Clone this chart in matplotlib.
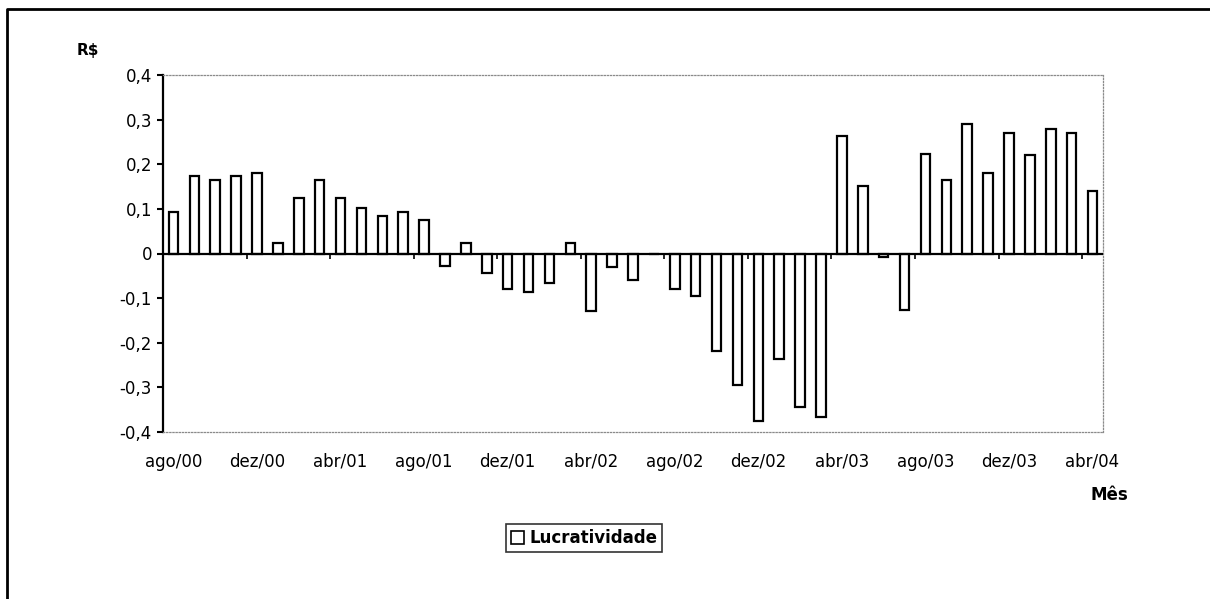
import numpy as np
import matplotlib.pyplot as plt
from matplotlib.patches import Patch
from matplotlib.lines import Line2D

# monthly profitability, ago/00 .. abr/04 (45 months)
lucratividade = [0.093, 0.174, 0.165, 0.174, 0.181, 0.024, 0.124, 0.165, 0.124, 0.102,
                 0.085, 0.094, 0.074, -0.027, 0.024, -0.044, -0.079, -0.087, -0.067, 0.024,
                 -0.128, -0.030, -0.060, 0.0, -0.080, -0.096, -0.219, -0.295, -0.375, -0.237,
                 -0.345, -0.367, 0.264, 0.152, -0.008, -0.127, 0.224, 0.164, 0.290, 0.181,
                 0.269, 0.221, 0.279, 0.270, 0.140]
month_labels = ['ago/00', 'dez/00', 'abr/01', 'ago/01', 'dez/01', 'abr/02',
                'ago/02', 'dez/02', 'abr/03', 'ago/03', 'dez/03', 'abr/04']
y_ticks = [-0.4, -0.3, -0.2, -0.1, 0, 0.1, 0.2, 0.3, 0.4]
y_labels = ['-0,4', '-0,3', '-0,2', '-0,1', '0', '0,1', '0,2', '0,3', '0,4']

W, H = 1210, 599
fig = plt.figure(figsize=(W / 100, H / 100), dpi=100)
ax = fig.add_axes([163 / W, 1 - 432 / H, 940 / W, 357 / H])

x = np.arange(len(lucratividade))
ax.bar(x, lucratividade, width=0.46, color='white', edgecolor='black', linewidth=1.6, zorder=3)
ax.axhline(0, color='black', linewidth=1.6, zorder=4)

# small ticks on the zero line, every 4 months between categories
step = 4
tick_pos = np.arange(step - 0.5, len(x) - 1, step)
ax.vlines(tick_pos, -0.012, 0, color='black', linewidth=1.2, zorder=4)

ax.set_xlim(-0.5, len(x) - 0.5)
ax.set_ylim(-0.4, 0.4)
ax.set_xticks(x[::step])
ax.set_xticklabels(month_labels, fontsize=12)
ax.set_yticks(y_ticks)
ax.set_yticklabels(y_labels, fontsize=12)
ax.tick_params(axis='x', length=0, pad=15)
ax.tick_params(axis='y', direction='out', length=4, width=1.5, pad=4)

for s in ['top', 'right', 'bottom']:
    ax.spines[s].set_linestyle((0, (1, 1.5)))
    ax.spines[s].set_color('#8a8a8a')
    ax.spines[s].set_linewidth(0.9)
ax.spines['left'].set_linewidth(1.6)

fig.text(88 / W, 1 - 50 / H, 'R$', fontsize=11, fontweight='bold', ha='center', va='center')
fig.text(1128 / W, 1 - 495 / H, 'Mês', fontsize=12, fontweight='bold', ha='right', va='center')

leg = fig.legend([Patch(facecolor='white', edgecolor='black', linewidth=1.2)], ['Lucratividade'],
                 loc='center', bbox_to_anchor=(584 / W, 1 - 538 / H), frameon=True, fancybox=False,
                 edgecolor='black', handlelength=0.8, handleheight=0.8, handletextpad=0.3,
                 borderpad=0.3, prop={'weight': 'bold', 'size': 12})
leg.get_frame().set_linewidth(1.2)

# outer frame (left and top edges)
fig.add_artist(Line2D([7 / W, 7 / W, 1], [0, 1 - 9 / H, 1 - 9 / H], color='black',
                      linewidth=2, transform=fig.transFigure))

fig.savefig('out.png', dpi=100)
